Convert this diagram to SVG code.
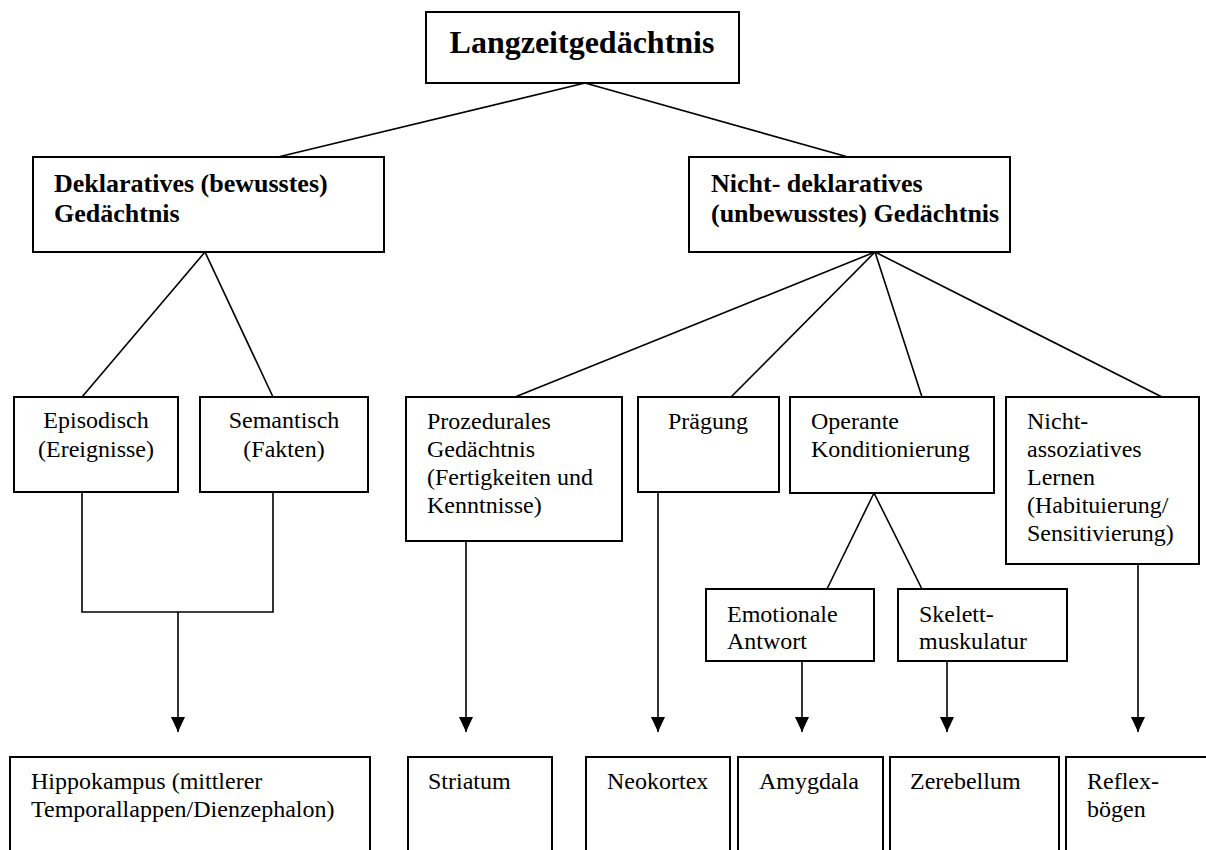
<svg xmlns="http://www.w3.org/2000/svg" width="1206" height="850" viewBox="0 0 1206 850">
<style>
.box{fill:#fff;stroke:#000;stroke-width:2}
.ln{fill:none;stroke:#000;stroke-width:1.6}
.t{font-family:"Liberation Serif","Times New Roman",serif;font-size:24px;fill:#000}
.b{font-family:"Liberation Serif","Times New Roman",serif;font-size:26px;font-weight:bold;fill:#000}
.title{font-family:"Liberation Serif","Times New Roman",serif;font-size:32px;font-weight:bold;fill:#000}
</style>
<defs>
<marker id="arr" viewBox="0 0 15 14" refX="15" refY="7" markerWidth="15" markerHeight="14" markerUnits="userSpaceOnUse" orient="auto">
<path d="M0,0 L15,7 L0,14 Z" fill="#000"/>
</marker>
</defs>
<rect width="1206" height="850" fill="#fff"/>
<g id="connectors">
<line class="ln" x1="585" y1="83" x2="278" y2="157"/>
<line class="ln" x1="585" y1="83" x2="848" y2="157"/>
<line class="ln" x1="205" y1="252" x2="82" y2="397"/>
<line class="ln" x1="205" y1="252" x2="273" y2="397"/>
<line class="ln" x1="875" y1="252" x2="515" y2="397"/>
<line class="ln" x1="875" y1="252" x2="731" y2="397"/>
<line class="ln" x1="875" y1="252" x2="922" y2="397"/>
<line class="ln" x1="875" y1="252" x2="1162" y2="397"/>
<line class="ln" x1="874" y1="493" x2="827" y2="589"/>
<line class="ln" x1="874" y1="493" x2="922" y2="589"/>
<polyline class="ln" points="82,492 82,612 273,612 273,492"/>
<line class="ln" x1="178" y1="612" x2="178" y2="732" marker-end="url(#arr)"/>
<line class="ln" x1="466" y1="541" x2="466" y2="732" marker-end="url(#arr)"/>
<line class="ln" x1="658" y1="492" x2="658" y2="732" marker-end="url(#arr)"/>
<line class="ln" x1="802" y1="661" x2="802" y2="732" marker-end="url(#arr)"/>
<line class="ln" x1="947" y1="661" x2="947" y2="732" marker-end="url(#arr)"/>
<line class="ln" x1="1138" y1="564" x2="1138" y2="732" marker-end="url(#arr)"/>
</g>
<g id="n-langzeit">
<rect class="box" x="426" y="12" width="313" height="71"/>
<text class="title" x="582" y="53" text-anchor="middle">Langzeitgedächtnis</text>
</g>
<g id="n-deklarativ">
<rect class="box" x="33" y="157" width="351" height="95"/>
<text class="b" x="54" y="192">Deklaratives (bewusstes)</text>
<text class="b" x="54" y="222">Gedächtnis</text>
</g>
<g id="n-nichtdeklarativ">
<rect class="box" x="689" y="157" width="321" height="95"/>
<text class="b" x="711" y="192">Nicht- deklaratives</text>
<text class="b" x="711" y="222">(unbewusstes) Gedächtnis</text>
</g>
<g id="n-episodisch">
<rect class="box" x="14" y="397" width="164" height="95"/>
<text class="t" x="96" y="428" text-anchor="middle">Episodisch</text>
<text class="t" x="96" y="457" text-anchor="middle">(Ereignisse)</text>
</g>
<g id="n-semantisch">
<rect class="box" x="200" y="397" width="168" height="95"/>
<text class="t" x="284" y="428" text-anchor="middle">Semantisch</text>
<text class="t" x="284" y="457" text-anchor="middle">(Fakten)</text>
</g>
<g id="n-prozedural">
<rect class="box" x="406" y="397" width="216" height="144"/>
<text class="t" x="427" y="429">Prozedurales</text>
<text class="t" x="427" y="457">Gedächtnis</text>
<text class="t" x="427" y="485">(Fertigkeiten und</text>
<text class="t" x="427" y="513">Kenntnisse)</text>
</g>
<g id="n-praegung">
<rect class="box" x="638" y="397" width="141" height="95"/>
<text class="t" x="708" y="429" text-anchor="middle">Prägung</text>
</g>
<g id="n-operant">
<rect class="box" x="790" y="397" width="204" height="96"/>
<text class="t" x="811" y="429">Operante</text>
<text class="t" x="811" y="457">Konditionierung</text>
</g>
<g id="n-nichtassoziativ">
<rect class="box" x="1006" y="397" width="193" height="167"/>
<text class="t" x="1027" y="429">Nicht-</text>
<text class="t" x="1027" y="457">assoziatives</text>
<text class="t" x="1027" y="485">Lernen</text>
<text class="t" x="1027" y="513">(Habituierung/</text>
<text class="t" x="1027" y="541">Sensitivierung)</text>
</g>
<g id="n-emotional">
<rect class="box" x="706" y="589" width="168" height="72"/>
<text class="t" x="727" y="622">Emotionale</text>
<text class="t" x="727" y="649">Antwort</text>
</g>
<g id="n-skelett">
<rect class="box" x="898" y="589" width="169" height="72"/>
<text class="t" x="919" y="622">Skelett-</text>
<text class="t" x="919" y="649">muskulatur</text>
</g>
<g id="n-hippokampus">
<rect class="box" x="10" y="757" width="360" height="110"/>
<text class="t" x="31" y="789">Hippokampus (mittlerer</text>
<text class="t" x="31" y="817">Temporallappen/Dienzephalon)</text>
</g>
<g id="n-striatum">
<rect class="box" x="408" y="757" width="144" height="110"/>
<text class="t" x="428" y="789">Striatum</text>
</g>
<g id="n-neokortex">
<rect class="box" x="586" y="757" width="144" height="110"/>
<text class="t" x="607" y="789">Neokortex</text>
</g>
<g id="n-amygdala">
<rect class="box" x="738" y="757" width="145" height="110"/>
<text class="t" x="759" y="789">Amygdala</text>
</g>
<g id="n-zerebellum">
<rect class="box" x="890" y="757" width="169" height="110"/>
<text class="t" x="910" y="789">Zerebellum</text>
</g>
<g id="n-reflex">
<rect class="box" x="1066" y="757" width="160" height="110"/>
<text class="t" x="1087" y="789">Reflex-</text>
<text class="t" x="1087" y="817">bögen</text>
</g>
</svg>
